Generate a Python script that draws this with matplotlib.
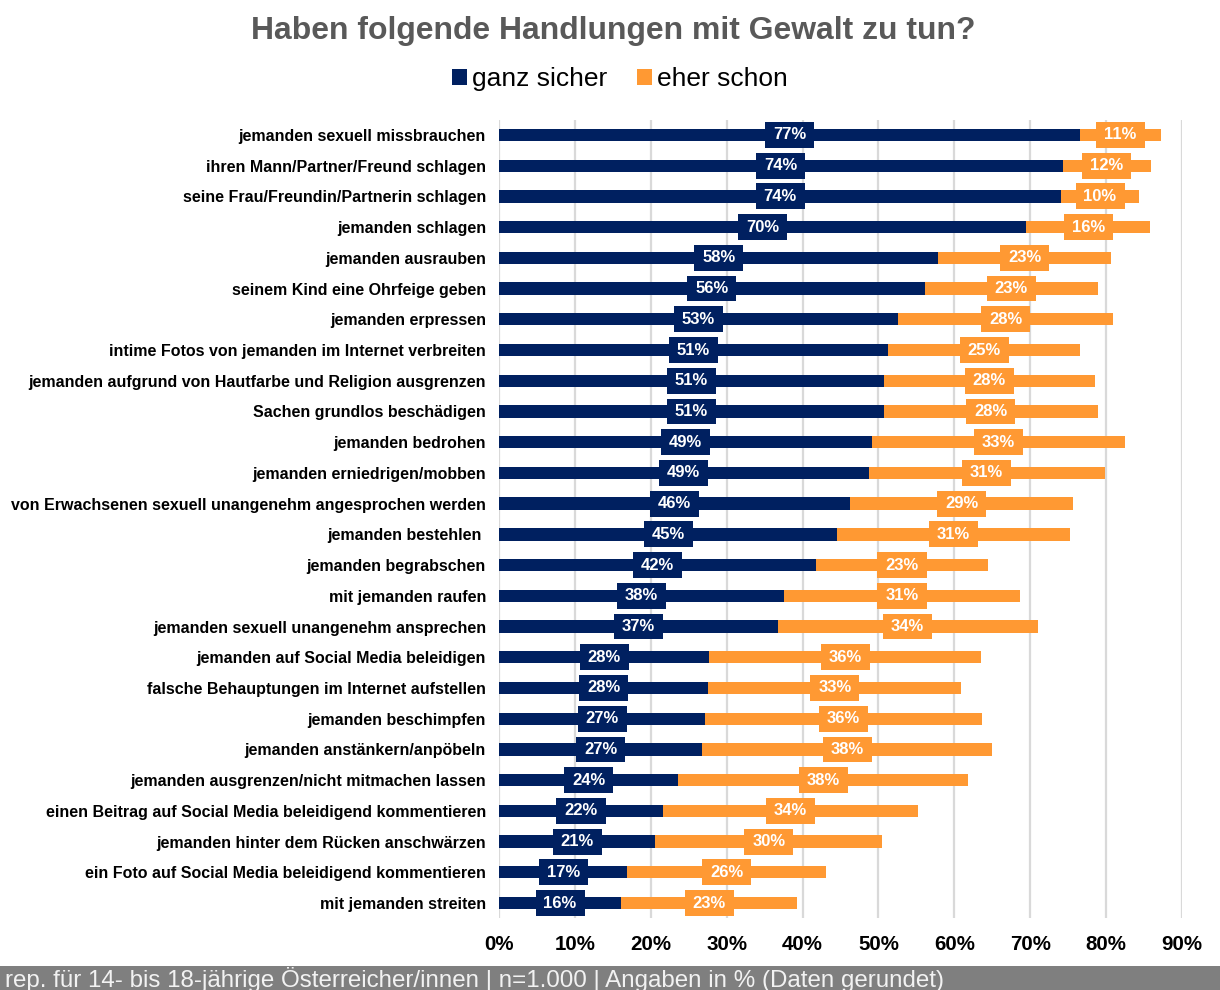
import matplotlib
matplotlib.use("Agg")
import matplotlib.pyplot as plt
import numpy as np
from matplotlib.path import Path
from matplotlib.patches import Rectangle, Patch

categories = [
    "jemanden sexuell missbrauchen",
    "ihren Mann/Partner/Freund schlagen",
    "seine Frau/Freundin/Partnerin schlagen",
    "jemanden schlagen",
    "jemanden ausrauben",
    "seinem Kind eine Ohrfeige geben",
    "jemanden erpressen",
    "intime Fotos von jemanden im Internet verbreiten",
    "jemanden aufgrund von Hautfarbe und Religion ausgrenzen",
    "Sachen grundlos beschädigen",
    "jemanden bedrohen",
    "jemanden erniedrigen/mobben",
    "von Erwachsenen sexuell unangenehm angesprochen werden",
    "jemanden bestehlen ",
    "jemanden begrabschen",
    "mit jemanden raufen",
    "jemanden sexuell unangenehm ansprechen",
    "jemanden auf Social Media beleidigen",
    "falsche Behauptungen im Internet aufstellen",
    "jemanden beschimpfen",
    "jemanden anstänkern/anpöbeln",
    "jemanden ausgrenzen/nicht mitmachen lassen",
    "einen Beitrag auf Social Media beleidigend kommentieren",
    "jemanden hinter dem Rücken anschwärzen",
    "ein Foto auf Social Media beleidigend kommentieren",
    "mit jemanden streiten",
]
ganz_sicher = [76.6, 74.3, 74.1, 69.5, 57.9, 56.1, 52.6, 51.3, 50.7, 50.7,
               49.2, 48.7, 46.3, 44.6, 41.8, 37.6, 36.7, 27.7, 27.6, 27.2,
               26.8, 23.6, 21.6, 20.6, 16.9, 16.1]
eher_schon = [10.6, 11.6, 10.2, 16.3, 22.7, 22.8, 28.3, 25.3, 27.8, 28.2,
              33.3, 31.1, 29.3, 30.6, 22.6, 31.0, 34.3, 35.8, 33.3, 36.4,
              38.2, 38.2, 33.6, 29.9, 26.2, 23.2]
ganz_labels = [77, 74, 74, 70, 58, 56, 53, 51, 51, 51, 49, 49, 46, 45, 42,
               38, 37, 28, 28, 27, 27, 24, 22, 21, 17, 16]
eher_labels = [11, 12, 10, 16, 23, 23, 28, 25, 28, 28, 33, 31, 29, 31, 23,
               31, 34, 36, 33, 36, 38, 38, 34, 30, 26, 23]
series_names = ["ganz sicher", "eher schon"]
x_ticks = [0, 10, 20, 30, 40, 50, 60, 70, 80, 90]
x_tick_labels = ["0%", "10%", "20%", "30%", "40%", "50%", "60%", "70%", "80%", "90%"]
title = "Haben folgende Handlungen mit Gewalt zu tun?"
footer = "rep. für 14- bis 18-jährige Österreicher/innen | n=1.000 | Angaben in % (Daten gerundet)"

DARK = "#002060"
ORANGE = "#FF9933"

plt.rcParams["font.family"] = ["Liberation Sans", "DejaVu Sans"]

W, H = 1220, 990
fig = plt.figure(figsize=(W / 100, H / 100), dpi=100)
fig.patch.set_facecolor("white")

ax_top, ax_bot = 119.6, 918.4
ax = fig.add_axes([499 / W, 1 - ax_bot / H, (1182 - 499) / W, (ax_bot - ax_top) / H])

y = np.arange(len(categories))
ax.barh(y, ganz_sicher, height=0.40, color=DARK, zorder=2)
ax.barh(y, eher_schon, left=ganz_sicher, height=0.40, color=ORANGE, zorder=2)

ax.set_xlim(0, 90)
ax.set_ylim(len(categories) - 0.5, -0.5)
ax.set_xticks(x_ticks)
ax.set_xticklabels(x_tick_labels, fontweight="bold", fontsize=14.5)
ax.set_yticks(y)
ax.set_yticklabels(categories, fontweight="bold", fontsize=11)
ax.tick_params(axis="x", length=0, pad=12)
ax.tick_params(axis="y", length=0, pad=9.4)
for s in ax.spines.values():
    s.set_visible(False)
ax.xaxis.grid(True, color="#d9d9d9", linewidth=1.6)
ax.set_axisbelow(True)


def label_box(x0, y0, width, height, mutation_size):
    cx = x0 + width / 2
    cy = y0 + height / 2
    bw = width + 0.95 * mutation_size
    bh = 1.55 * mutation_size
    verts = [(cx - bw / 2, cy - bh / 2), (cx + bw / 2, cy - bh / 2),
             (cx + bw / 2, cy + bh / 2), (cx - bw / 2, cy + bh / 2),
             (cx - bw / 2, cy - bh / 2)]
    return Path(verts, closed=True)


for i in range(len(categories)):
    g = ganz_sicher[i]
    e = eher_schon[i]
    ax.text(g / 2, i, f"{ganz_labels[i]}%", ha="center", va="center",
            color="white", fontweight="bold", fontsize=12, zorder=4,
            bbox=dict(boxstyle=label_box, facecolor=DARK, edgecolor="none"))
    ax.text(g + e / 2, i, f"{eher_labels[i]}%", ha="center", va="center",
            color="white", fontweight="bold", fontsize=12, zorder=4,
            bbox=dict(boxstyle=label_box, facecolor=ORANGE, edgecolor="none"))

# title
t_title = fig.text(613 / W, 1 - 31 / H, title, ha="center", va="center",
                   fontsize=21, fontweight="bold", color="#595959")

# legend
handles = [Patch(facecolor=DARK, edgecolor="none"), Patch(facecolor=ORANGE, edgecolor="none")]
leg_fs = 19
px_per_fs = leg_fs * 100 / 72
fig.legend(handles, series_names, loc="center", bbox_to_anchor=(620 / W, 1 - 79 / H),
           ncol=2, frameon=False, fontsize=leg_fs,
           handlelength=15 / px_per_fs, handleheight=15 / px_per_fs,
           handletextpad=5 / px_per_fs, columnspacing=30 / px_per_fs,
           borderpad=0, borderaxespad=0)

# footer band
fig.patches.append(Rectangle((0, 0), 1, 24 / H, transform=fig.transFigure,
                             facecolor="#7f7f7f", edgecolor="none", zorder=0))
t_foot = fig.text(5 / W, 3.5 / H, footer, ha="left", va="baseline",
                  fontsize=18, color="#f2f2f2")

# fit font sizes to the reference text widths
fig.canvas.draw()
r = fig.canvas.get_renderer()


def fit(t, target):
    w = t.get_window_extent(r).width
    return t.get_fontsize() * target / w


t_title.set_fontsize(fit(t_title, 724))
t_foot.set_fontsize(fit(t_foot, 939))
longest = ax.get_yticklabels()[12]
ys = fit(longest, 473)
for lab in ax.get_yticklabels():
    lab.set_fontsize(ys)
xs = fit(ax.get_xticklabels()[-1], 41)
for lab in ax.get_xticklabels():
    lab.set_fontsize(xs)

fig.savefig("out.png", dpi=100)
